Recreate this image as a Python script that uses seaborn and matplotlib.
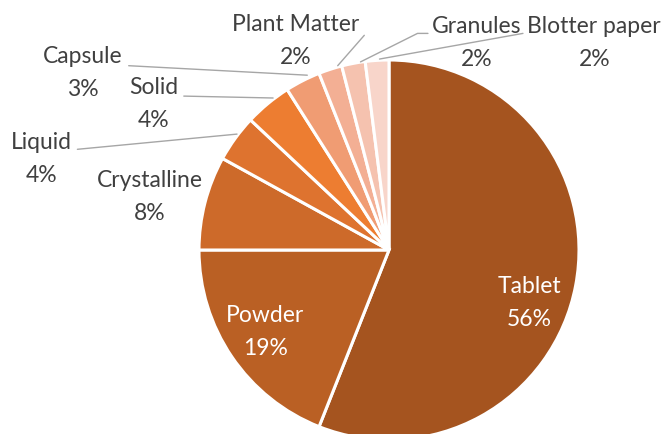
import matplotlib
matplotlib.use("Agg")
import matplotlib.pyplot as plt
import seaborn as sns

# data (clockwise from 12 o'clock)
forms = ['Tablet', 'Powder', 'Crystalline', 'Liquid', 'Solid', 'Capsule',
         'Plant Matter', 'Granules', 'Blotter paper']
shares = [56, 19, 8, 4, 4, 3, 2, 2, 2]
colors = ['#A5541F', '#BA6024', '#CD6A2A', '#DE732F', '#ED7D31', '#F09C73',
          '#F3AF94', '#F5C2AF', '#F8D5CA']

# label centres in pie units (radius = 1), plus leader line ends where used
label_xy = [(0.74, -0.28), (-0.65, -0.43), (-1.26, 0.28), (-1.83, 0.48),
            (-1.24, 0.77), (-1.61, 0.93), (-0.49, 1.10), (0.46, 1.09), (1.08, 1.09)]
inside = [True, True, False, False, False, False, False, False, False]
leaders = {
    'Liquid': [(-1.64, 0.53), (-0.80, 0.61)],
    'Solid': [(-1.08, 0.81), (-0.61, 0.80)],
    'Capsule': [(-1.37, 0.97), (-0.43, 0.92)],
    'Plant Matter': [(-0.13, 1.13), (-0.27, 0.97)],
    'Granules': [(0.205, 1.14), (0.15, 1.14), (-0.15, 0.99)],
    'Blotter paper': [(0.705, 1.14), (-0.05, 1.005)],
}

sns.set_style("white")
plt.rcParams['font.family'] = ['Lato', 'DejaVu Sans']

fig = plt.figure(figsize=(6.64, 4.34), dpi=100)
r_px = 190
cx, cy = 389, 250
ax = fig.add_axes([(cx - r_px) / 664, (434 - cy - r_px) / 434,
                   2 * r_px / 664, 2 * r_px / 434])
wedges, _ = ax.pie(shares, colors=colors, startangle=90, counterclock=False,
                   wedgeprops=dict(edgecolor='white', linewidth=2.2))
for w in wedges:
    w.set_clip_on(False)
ax.set_xlim(-1, 1)
ax.set_ylim(-1, 1)
ax.set_aspect('equal')
ax.axis('off')

for name, val, (x, y), ins in zip(forms, shares, label_xy, inside):
    col = 'white' if ins else '#404040'
    ax.text(x, y, f"{name}\n{val}%", ha='center', va='center', color=col,
            fontsize=16.5, linespacing=1.7, clip_on=False)
    if name in leaders:
        xs, ys = zip(*leaders[name])
        ax.plot(xs, ys, color='#A6A6A6', lw=1, clip_on=False)

fig.savefig('out.png', dpi=100)
